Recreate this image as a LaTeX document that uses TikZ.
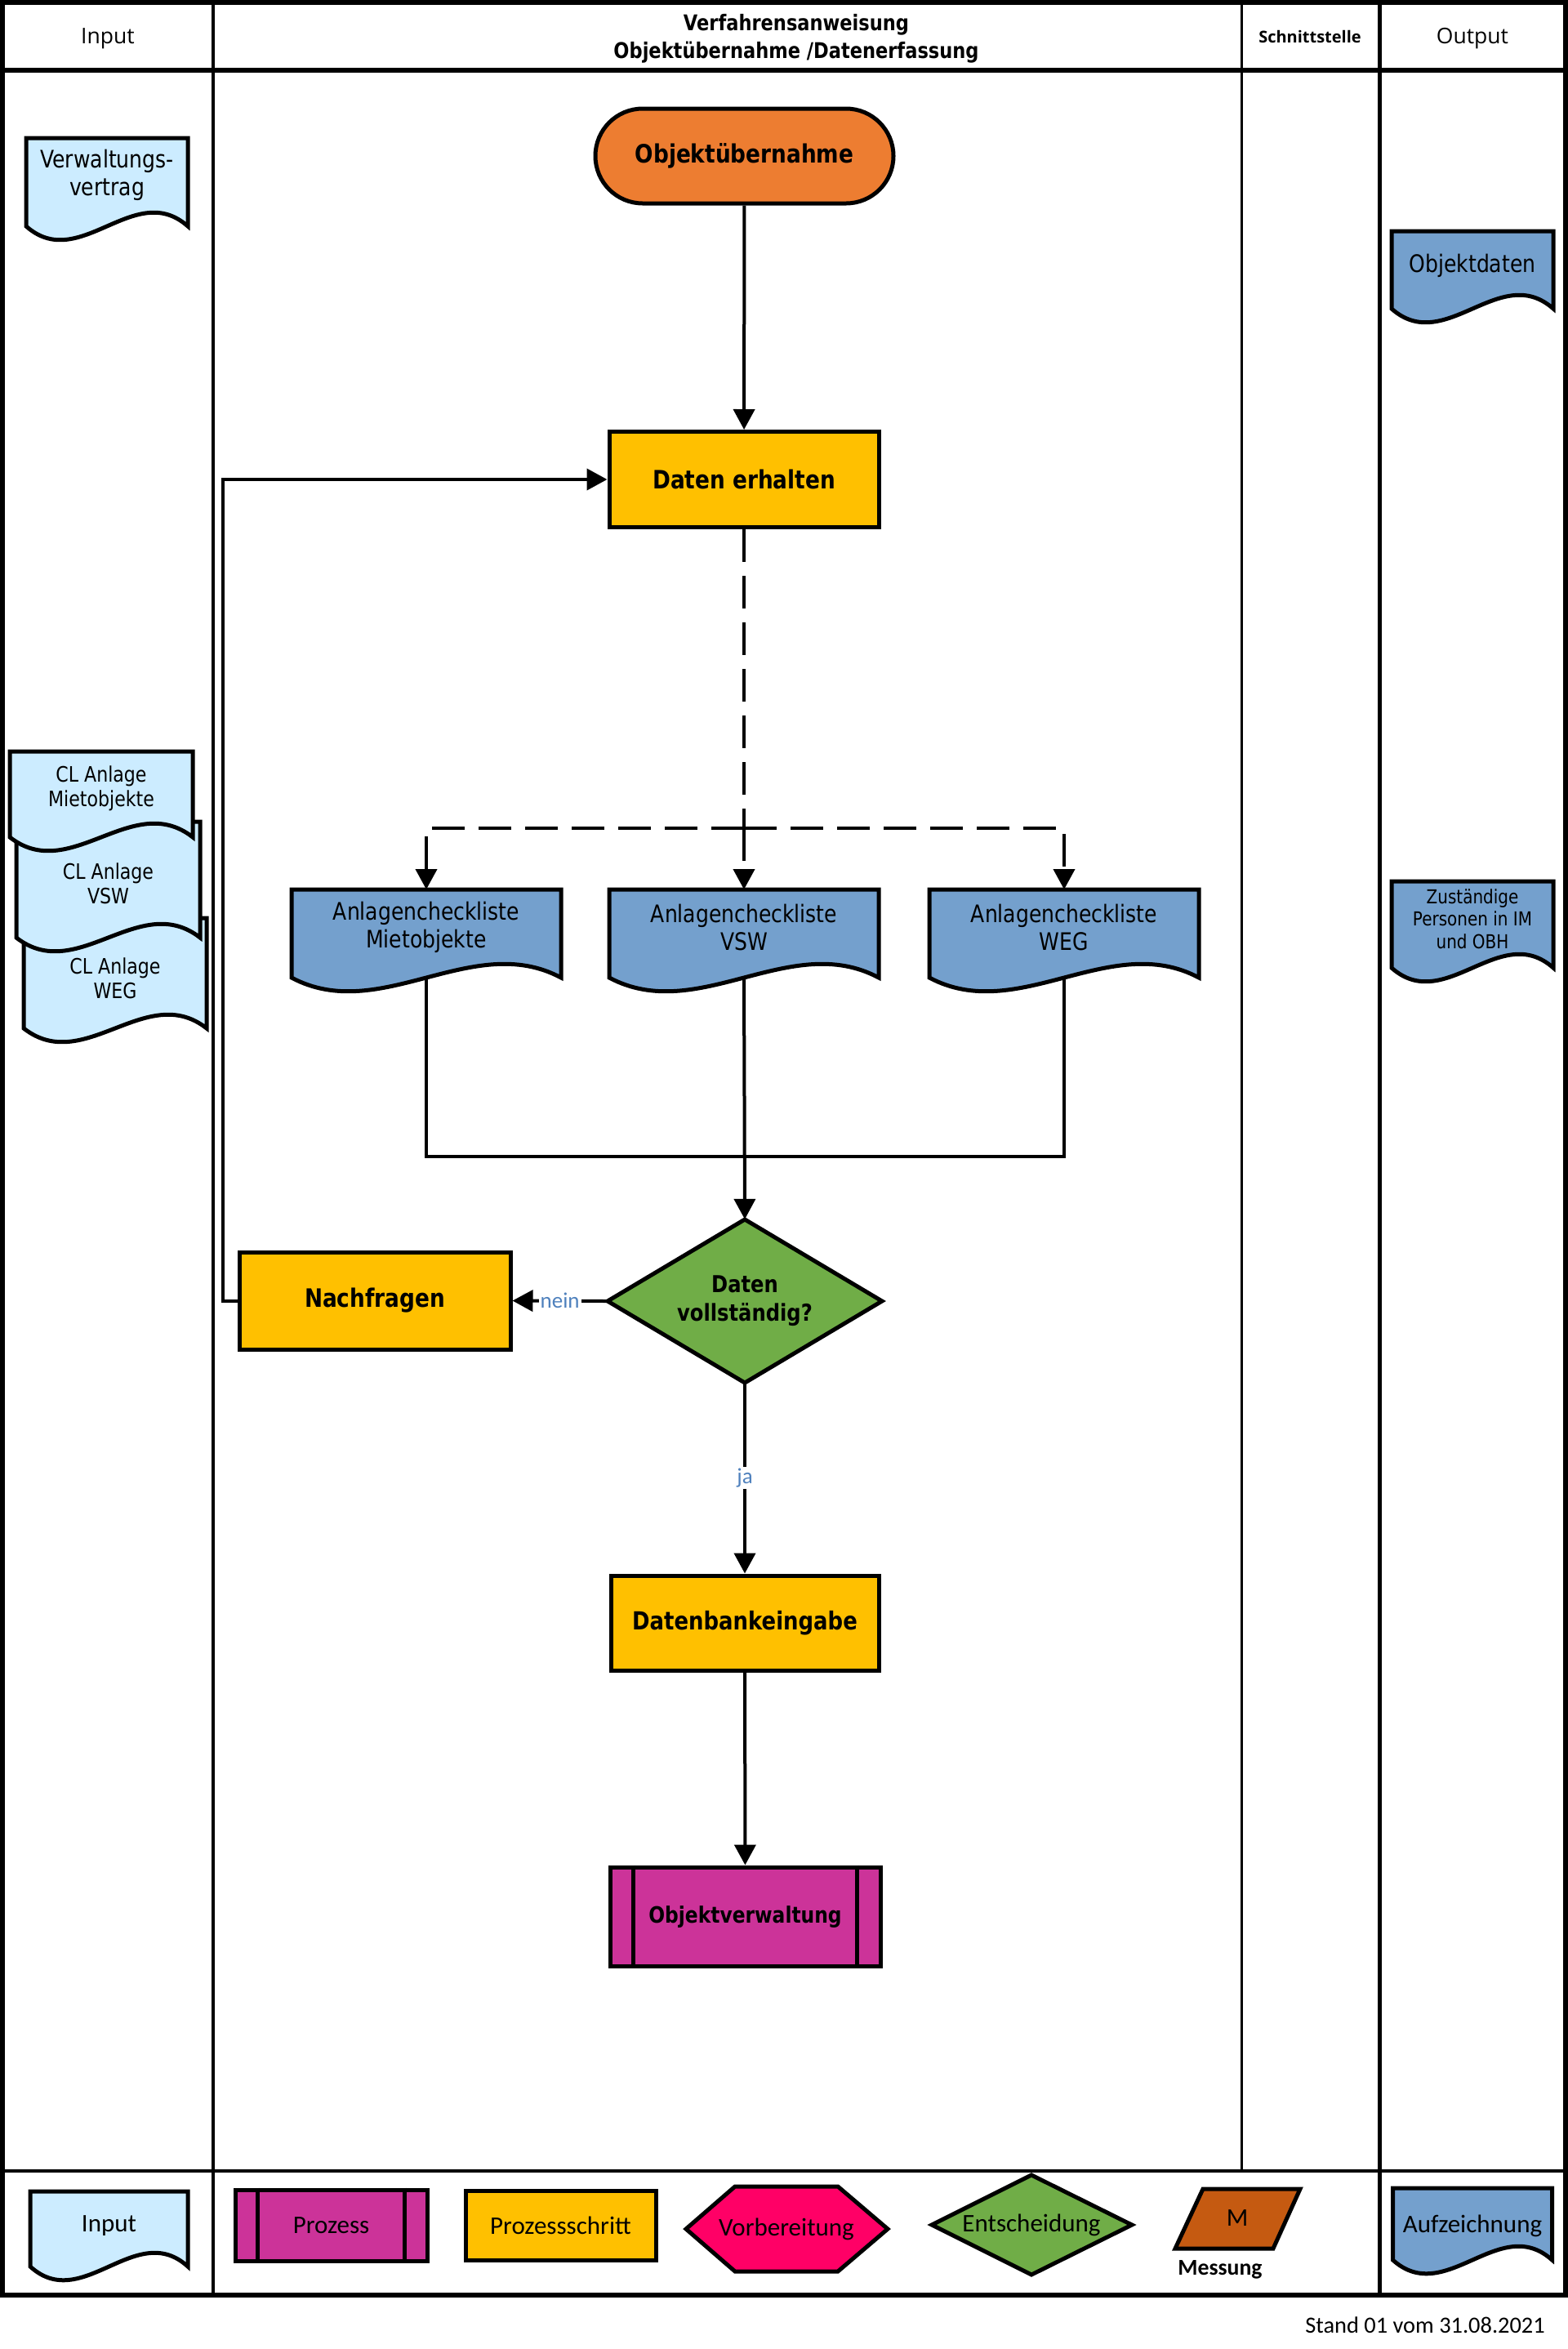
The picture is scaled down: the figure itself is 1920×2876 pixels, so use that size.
\documentclass[tikz,border=0pt]{standalone}
\usepackage{fontspec}
\setmainfont{DejaVu Sans}[FakeStretch=0.85]
\newfontfamily\calfont{Carlito}
\newfontfamily\osfont{Open Sans}
\usetikzlibrary{arrows.meta,calc}

\definecolor{orangeT}{RGB}{237,125,49}
\definecolor{yellowP}{RGB}{255,192,0}
\definecolor{docblue}{RGB}{116,160,205}
\definecolor{lightblue}{RGB}{204,236,255}
\definecolor{greenD}{RGB}{112,173,71}
\definecolor{magentaP}{RGB}{204,51,153}
\definecolor{pinkV}{RGB}{255,0,102}
\definecolor{brownM}{RGB}{197,90,17}
\definecolor{labelblue}{RGB}{79,129,189}

\tikzset{
  conn/.style={line width=4pt},
  arr/.style={-{Triangle[length=25pt,width=26pt]}},
  dashconn/.style={line width=4pt, dash pattern=on 40pt off 17pt},
  box/.style={draw, line width=5pt, minimum width=330pt, minimum height=117pt, inner sep=0pt, align=center},
  boldtxt/.style={font=\fontsize{31pt}{36pt}\selectfont\bfseries},
  doctxt/.style={inner sep=0pt, align=center, font=\fontsize{29.5pt}{34pt}\selectfont},
  cltxt/.style={inner sep=0pt, align=center, font=\fontsize{26pt}{30pt}\selectfont},
  zutxt/.style={inner sep=0pt, align=center, font=\fontsize{23.5pt}{27.5pt}\selectfont},
  legtxt/.style={inner sep=0pt, align=center, font=\calfont\fontsize{31pt}{36pt}\selectfont},
  hdr/.style={inner sep=0pt, font=\osfont\fontsize{26.5pt}{30pt}\selectfont},
  lbl/.style={fill=white, inner sep=2pt, text=labelblue, font=\calfont\fontsize{27pt}{30pt}\selectfont},
  docline/.style={line width=5pt, line join=miter},
}

% #1 fill, #2 node style, #3 cx, #4 top, #5 width, #6 side height, #7 text box height, #8 name, #9 text
\newcommand\docshape[9]{%
  \filldraw[docline, fill=#1] ({#3-#5/2},#4) -- ({#3+#5/2},#4) -- ({#3+#5/2},{#4+#6})
    .. controls ({#3+0.17*#5},{#4+#6-58}) and ({#3-0.17*#5},{#4+#6+58}) .. ({#3-#5/2},{#4+#6}) -- cycle;
  \node[#2, minimum width=#5pt, minimum height=#7pt, anchor=north] (#8) at (#3,#4) {#9};
  \coordinate (#8-b) at (#3,{#4+#6});
}

\begin{document}
\begin{tikzpicture}[x=1pt,y=-1pt]
\useasboundingbox (0,0) rectangle (1920,2876);
\fill[white] (0,0) rectangle (1920,2876);

% frame
\draw[line width=6pt] (3,3) rectangle (1917,2810);
\draw[line width=6pt] (3,86) -- (1917,86);
\draw[line width=4pt] (3,2658) -- (1917,2658);
\draw[line width=4pt] (261,3) -- (261,2810);
\draw[line width=3pt] (1520,3) -- (1520,2658);
\draw[line width=5pt] (1689,3) -- (1689,2810);

% header
\node[hdr] (hin) at (132,47) {Input};
\node[inner sep=0pt, align=center, font=\fontsize{26.5pt}{34pt}\selectfont\bfseries] (hva) at (975,47) {Verfahrensanweisung\\Objektübernahme /Datenerfassung};
\node[inner sep=0pt, font=\osfont\bfseries\fontsize{20pt}{24pt}\selectfont] (hsch) at (1604,45) {Schnittstelle};
\node[hdr] (hout) at (1803,47) {Output};

% main flow
\node[box, fill=orangeT, boldtxt, rounded corners=58pt, minimum width=365pt, minimum height=116pt] (start) at (911.5,191) {Objektübernahme};
\node[box, fill=yellowP, boldtxt] (daten) at (911,587) {Daten erhalten};
\draw[conn, arr] (start) -- (daten);

\docshape{docblue}{doctxt}{522}{1089}{330}{108}{92}{d1}{Anlagencheckliste\\Mietobjekte}
\docshape{docblue}{doctxt}{911}{1089}{330}{108}{92}{d2}{Anlagencheckliste\\VSW}
\docshape{docblue}{doctxt}{1303}{1089}{330}{108}{92}{d3}{Anlagencheckliste\\WEG}

\coordinate (j) at (911,1014);
\draw[dashconn] (daten.south) -- (j);
\draw[dashconn, arr] (j) -- (d2.north);
\draw[dashconn, arr] (j) -| (d1.north);
\draw[dashconn, arr] (j) -| (d3.north);

% decision
\filldraw[fill=greenD, line width=5pt] (912,1493) -- (1080,1593) -- (912,1693) -- (744,1593) -- cycle;
\node[inner sep=0pt, minimum width=336pt, minimum height=200pt, align=center, font=\fontsize{28.5pt}{35pt}\selectfont\bfseries] (dec) at (912,1593) {Daten\\vollständig?};

\coordinate (m) at (911,1416);
\draw[conn] (d1-b) -- (d1-b |- m) -- (d3-b |- m) -- (d3-b);
\draw[conn, arr] (d2-b) -- (dec.north);

\node[box, fill=yellowP, boldtxt, minimum width=332pt, minimum height=119pt] (nach) at (459,1592.5) {Nachfragen};
\draw[conn, arr] (dec.west) -- node[lbl]{nein} (nach.east);
\draw[conn, arr] (nach.west) -- ++(-18,0) |- (daten.west);

\node[box, fill=yellowP, font=\fontsize{30.5pt}{36pt}\selectfont\bfseries, minimum width=328pt, minimum height=116pt] (db) at (912,1987) {Datenbankeingabe};
\draw[conn, arr] (dec.south) -- node[lbl]{ja} (db.north);

\node[box, fill=magentaP, font=\fontsize{27.5pt}{32pt}\selectfont\bfseries, minimum width=331pt, minimum height=121pt] (ov) at (912.5,2346.5) {Objektverwaltung};
\draw[line width=5pt] ([xshift=31pt]ov.north west) -- ([xshift=31pt]ov.south west);
\draw[line width=5pt] ([xshift=-31pt]ov.north east) -- ([xshift=-31pt]ov.south east);
\draw[conn, arr] (db) -- (ov);

% input column
\docshape{lightblue}{doctxt}{131}{169}{198}{108}{90}{vv}{Verwaltungs-\\vertrag}
\docshape{lightblue}{cltxt}{141}{1124}{224}{135}{148}{clc}{CL Anlage\\WEG}
\docshape{lightblue}{cltxt}{132.5}{1006}{225}{142}{152}{clb}{CL Anlage\\VSW}
\docshape{lightblue}{cltxt}{124}{920}{224}{105}{90}{cla}{CL Anlage\\Mietobjekte}

% output column
\docshape{docblue}{doctxt}{1803}{283}{198}{95}{84}{od}{Objektdaten}
\docshape{docblue}{zutxt}{1803}{1079}{198}{106}{92}{zp}{Zuständige\\Personen in IM\\und OBH}

% legend
\docshape{lightblue}{legtxt}{133.5}{2683}{193}{92}{84}{lin}{Input}
\docshape{docblue}{legtxt}{1803}{2679}{195}{88}{92}{lauf}{Aufzeichnung}

\node[draw, line width=5pt, fill=magentaP, minimum width=235pt, minimum height=87pt, legtxt] (lpro) at (405.5,2724.5) {Prozess};
\draw[line width=5pt] ([xshift=30pt]lpro.north west) -- ([xshift=30pt]lpro.south west);
\draw[line width=5pt] ([xshift=-30pt]lpro.north east) -- ([xshift=-30pt]lpro.south east);
\node[draw, line width=5pt, fill=yellowP, minimum width=233pt, minimum height=85pt, legtxt] (lps) at (686.5,2724.5) {Prozessschritt};

\filldraw[fill=pinkV, line width=5pt] (840,2729) -- (900,2677) -- (1026,2677) -- (1087,2729) -- (1026,2781) -- (900,2781) -- cycle;
\node[legtxt] (lvb) at (963,2729) {Vorbereitung};

\filldraw[fill=greenD, line width=5pt] (1141,2724) -- (1263,2663) -- (1386,2724) -- (1263,2785) -- cycle;
\node[legtxt] (lent) at (1263,2724) {Entscheidung};

\filldraw[fill=brownM, line width=5pt] (1473,2680) -- (1592,2680) -- (1559,2753) -- (1439,2753) -- cycle;
\node[legtxt] (lm) at (1515,2716) {M};
\node[inner sep=0pt, font=\calfont\bfseries\fontsize{27.7pt}{32pt}\selectfont] (lmess) at (1494,2779) {Messung};

\node[anchor=east, inner sep=0pt, font=\calfont\fontsize{28.4pt}{32pt}\selectfont] (stand) at (1892,2847) {Stand 01 vom 31.08.2021};
\end{tikzpicture}
\end{document}
